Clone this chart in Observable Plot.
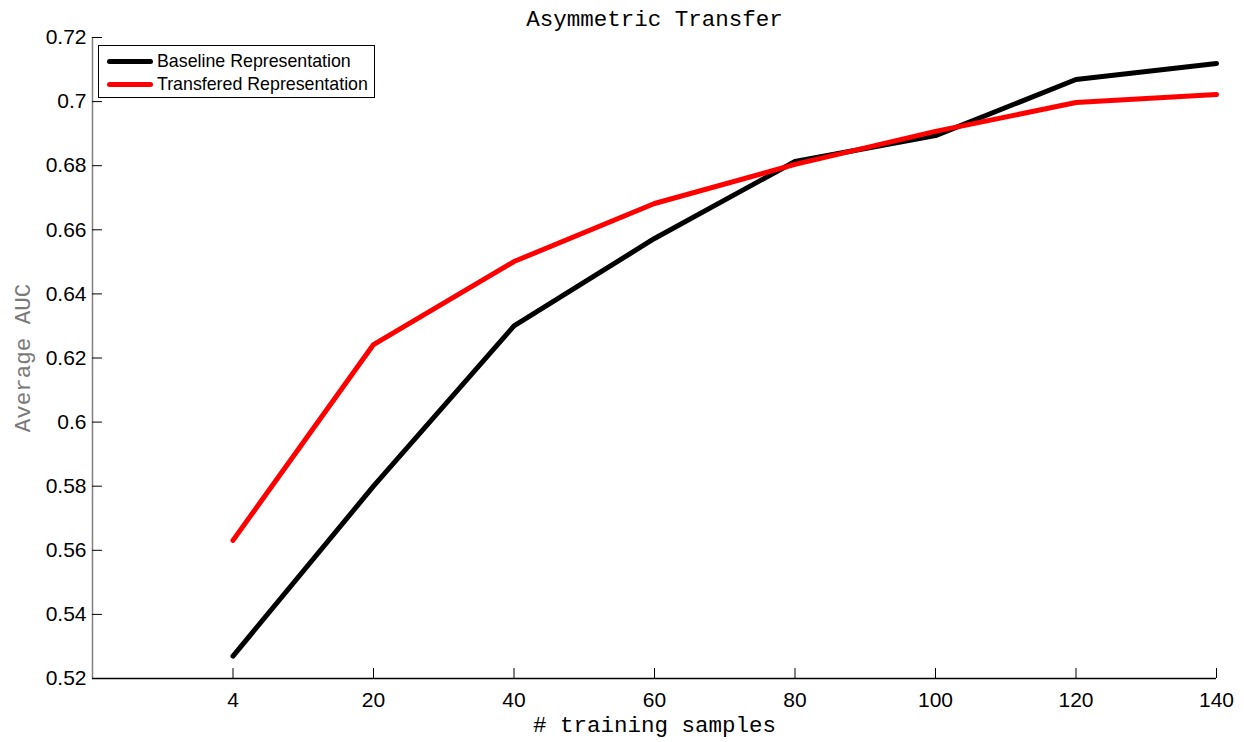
<!DOCTYPE html>
<html>
<head>
<meta charset="utf-8">
<script src="https://cdn.jsdelivr.net/npm/d3@7"></script>
<script src="https://cdn.jsdelivr.net/npm/@observablehq/plot@0.6"></script>
<style>
  body { margin: 0; background: #fff; }
  #wrap { position: relative; width: 1244px; height: 742px; }
  #legend {
    position: absolute; left: 98px; top: 45px; width: 277px; height: 53px;
    border: 1px solid #000; background: #fff; box-sizing: border-box;
    font-family: "Liberation Sans", Arial, sans-serif; font-size: 17.8px; color: #000;
  }
  .li { position: absolute; left: 0; height: 22px; display: flex; align-items: center; white-space: nowrap; }
  .sw { width: 46px; height: 5px; border-radius: 3px; margin-left: 8px; margin-right: 4px; }
</style>
</head>
<body>
<div id="wrap">
  <div id="chart"></div>
  <div id="legend"></div>
</div>
<script>
const samples = [4, 20, 40, 60, 80, 100, 120, 140];
const baseline = [0.527, 0.580, 0.630, 0.6573, 0.6813, 0.6894, 0.7069, 0.7119];
const transfered = [0.5631, 0.6242, 0.6501, 0.6682, 0.6804, 0.6907, 0.6997, 0.7022];
const seriesNames = ["Baseline Representation", "Transfered Representation"];
const seriesColors = ["#000000", "#ff0000"];
const yTicks = [0.52, 0.54, 0.56, 0.58, 0.6, 0.62, 0.64, 0.66, 0.68, 0.7, 0.72];

const idx = samples.map((_, i) => i + 1);
const rows = [];
samples.forEach((s, i) => {
  rows.push({i: i + 1, v: baseline[i], s: seriesNames[0]});
  rows.push({i: i + 1, v: transfered[i], s: seriesNames[1]});
});

const monoFont = "'Liberation Mono', 'Courier New', monospace";
const sansFont = "'Liberation Sans', Arial, sans-serif";

const chart = Plot.plot({
  width: 1244,
  height: 742,
  marginLeft: 92,
  marginRight: 28,
  marginTop: 37,
  marginBottom: 64,
  style: {fontFamily: sansFont, background: "#fff"},
  x: {domain: [0, 8], axis: null},
  y: {domain: [0.52, 0.72], axis: null},
  color: {domain: seriesNames, range: seriesColors},
  marks: [
    Plot.ruleX([0], {stroke: "#808080", strokeWidth: 1.5}),
    Plot.ruleY([0.52], {stroke: "#000", strokeWidth: 1.5}),
    Plot.ruleX(idx, {x: d => d, y1: 0.52, y2: 0.52 + 0.0031, stroke: "#000", strokeWidth: 1}),
    Plot.ruleY(yTicks, {y: d => d, x1: 0, x2: 0.071, stroke: "#000", strokeWidth: 1}),
    Plot.text(idx, {x: d => d, y: 0.52, text: (d, i) => String(samples[i]), dy: 22, fontSize: 21, fill: "#000"}),
    Plot.text(yTicks, {x: 0, y: d => d, text: d => String(+d.toFixed(2)), textAnchor: "end", dx: -6, fontSize: 21, fill: "#000"}),
    Plot.line(rows, {x: "i", y: "v", z: "s", stroke: "s", strokeWidth: 5, strokeLinejoin: "round", strokeLinecap: "round"}),
    Plot.text(["Asymmetric Transfer"], {frameAnchor: "top", lineAnchor: "middle", dy: -19, fontFamily: monoFont, fontSize: 22.5, fill: "#000"}),
    Plot.text(["# training samples"], {frameAnchor: "bottom", lineAnchor: "middle", dy: 46, fontFamily: monoFont, fontSize: 22.5, fill: "#000"}),
    Plot.text(["Average AUC"], {frameAnchor: "left", textAnchor: "middle", lineAnchor: "middle", dx: -70, rotate: -90, fontFamily: monoFont, fontSize: 22.5, fill: "#7a7a7a"})
  ]
});
document.getElementById("chart").appendChild(chart);

const leg = document.getElementById("legend");
seriesNames.forEach((n, k) => {
  const d = document.createElement("div");
  d.className = "li";
  d.style.top = (4 + k * 23) + "px";
  const sw = document.createElement("span");
  sw.className = "sw";
  sw.style.background = seriesColors[k];
  const t = document.createElement("span");
  t.textContent = n;
  d.appendChild(sw); d.appendChild(t);
  leg.appendChild(d);
});
</script>
</body>
</html>
